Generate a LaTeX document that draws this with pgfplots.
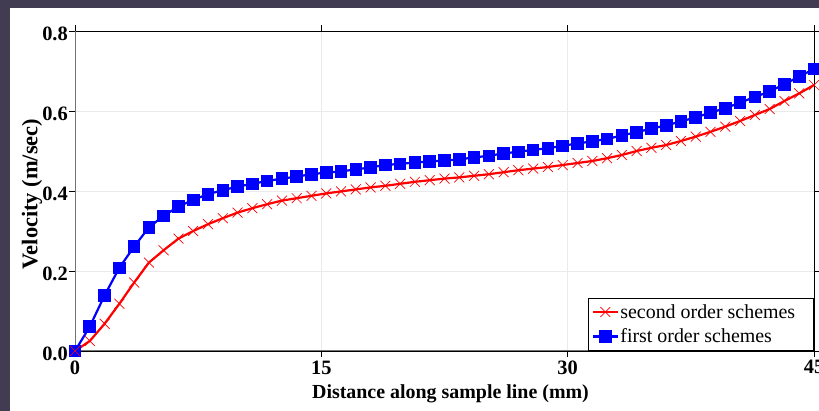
\documentclass[border=0pt]{standalone}
\usepackage{pgfplots}
\pgfplotsset{compat=1.18}
\usepackage{fontspec}
\setmainfont{Liberation Serif}
\definecolor{slidebg}{RGB}{66,60,82}
\definecolor{axgray}{RGB}{115,115,115}
\definecolor{gridgray}{RGB}{234,234,234}
\begin{document}
\begin{tikzpicture}
\useasboundingbox (0bp,0bp) rectangle (819bp,411bp);
\fill[slidebg] (0bp,0bp) rectangle (819bp,411bp);
\fill[white] (10bp,0bp) rectangle (819bp,403bp);
\begin{axis}[
  at={(75bp,60bp)}, anchor=south west,
  scale only axis, width=739bp, height=320bp,
  xmin=0, xmax=45, ymin=0, ymax=0.8,
  xtick={0,15,30,45}, ytick={0,0.2,0.4,0.6,0.8},
  /pgf/number format/assume math mode=true,
  tick align=outside, tick pos=both, major tick length=6bp,
  tick style={black, line width=0.6bp},
  axis line style={black, line width=0.8bp},
  grid=major, grid style={gridgray, line width=0.8bp},
  ticklabel style={font=\bfseries\fontsize{20.5}{24}\selectfont},
  yticklabel style={/pgf/number format/fixed, /pgf/number format/fixed zerofill,
    /pgf/number format/precision=1, inner xsep=1bp, yshift=-3bp},
  xlabel={Distance along sample line (mm)},
  ylabel={Velocity (m/sec)},
  xlabel style={font=\bfseries\fontsize{20}{24}\selectfont,
    at={(axis description cs:0.5,0)}, anchor=base, yshift=-47bp, xshift=6bp},
  ylabel style={font=\bfseries\fontsize{22.5}{26}\selectfont,
    at={(axis description cs:0,0.5)}, anchor=base, yshift=37.5bp, xshift=-3bp},
  legend style={at={(1,0)}, anchor=south east, draw=black, line width=0.6bp,
    font=\fontsize{20}{24}\selectfont, inner xsep=3bp, inner ysep=4bp,
    row sep=4bp, nodes={inner ysep=2.5bp, inner xsep=1.5bp}},
  legend cell align=left,
  reverse legend,
  legend image code/.code={\draw[mark repeat=2, mark phase=2, #1] plot coordinates {(0bp,0bp)(12.5bp,0bp)(25bp,0bp)};},
]
\draw[axgray, line width=1.6bp] (rel axis cs:0,1) -- (rel axis cs:0,0) -- (rel axis cs:1,0);
\addplot[blue, line width=2.2bp, mark=square*, mark size=5.2bp,
  mark options={solid}] coordinates {
(0,0) (0.9,0.061) (1.8,0.139) (2.7,0.208) (3.6,0.261) (4.5,0.309) (5.4,0.338) (6.3,0.361) (7.2,0.378) (8.1,0.392)
(9.0,0.402) (9.9,0.411) (10.8,0.418) (11.7,0.425) (12.6,0.431) (13.5,0.436) (14.4,0.442) (15.3,0.446) (16.2,0.449) (17.1,0.454)
(18.0,0.459) (18.9,0.465) (19.8,0.468) (20.7,0.471) (21.6,0.474) (22.5,0.476) (23.4,0.479) (24.3,0.484) (25.2,0.488) (26.1,0.494)
(27.0,0.498) (27.9,0.503) (28.8,0.507) (29.7,0.513) (30.6,0.519) (31.5,0.524) (32.4,0.530) (33.3,0.539) (34.2,0.547) (35.1,0.556)
(36.0,0.564) (36.9,0.574) (37.8,0.584) (38.7,0.596) (39.6,0.607) (40.5,0.621) (41.4,0.635) (42.3,0.649) (43.2,0.667) (44.1,0.686)
(45.0,0.705)
};
\addlegendentry{first order schemes}
\addplot[red, line width=2.2bp, mark=x, mark size=7bp,
  mark options={solid, line width=0.7bp}] coordinates {
(0,0) (0.9,0.025) (1.8,0.068) (2.7,0.118) (3.6,0.171) (4.5,0.221) (5.4,0.252) (6.3,0.281) (7.2,0.300) (8.1,0.317)
(9.0,0.332) (9.9,0.346) (10.8,0.357) (11.7,0.367) (12.6,0.376) (13.5,0.382) (14.4,0.388) (15.3,0.394) (16.2,0.399) (17.1,0.404)
(18.0,0.409) (18.9,0.413) (19.8,0.418) (20.7,0.423) (21.6,0.427) (22.5,0.431) (23.4,0.434) (24.3,0.438) (25.2,0.442) (26.1,0.447)
(27.0,0.452) (27.9,0.456) (28.8,0.460) (29.7,0.465) (30.6,0.470) (31.5,0.475) (32.4,0.482) (33.3,0.490) (34.2,0.500) (35.1,0.508)
(36.0,0.515) (36.9,0.525) (37.8,0.536) (38.7,0.548) (39.6,0.561) (40.5,0.575) (41.4,0.590) (42.3,0.605) (43.2,0.625) (44.1,0.644)
(45.0,0.665)
};
\addlegendentry{second order schemes\hspace*{14bp}}
\end{axis}
\end{tikzpicture}
\end{document}
